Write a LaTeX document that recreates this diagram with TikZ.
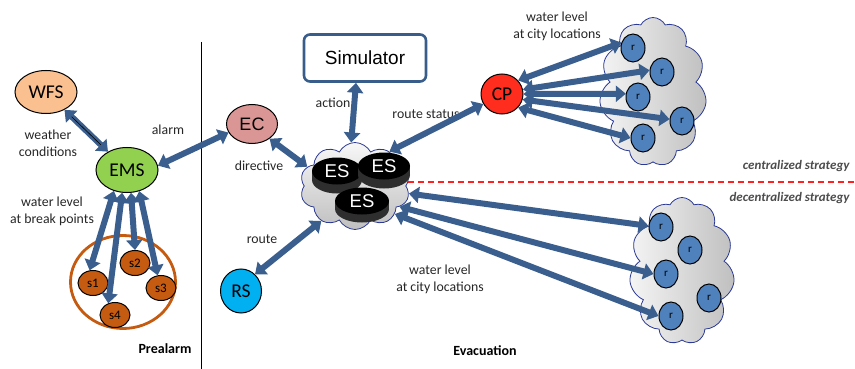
\documentclass[tikz,border=0pt]{standalone}
\usepackage{fontspec}
\setmainfont{Carlito}
\newfontfamily\arialf{Liberation Sans}
\usetikzlibrary{arrows.meta,shapes.geometric,shapes.symbols}
\definecolor{arrowc}{HTML}{3A5F8E}
\definecolor{wfsfill}{HTML}{FAC08F}
\definecolor{emsfill}{HTML}{92D050}
\definecolor{ecfill}{HTML}{DA9694}
\definecolor{cpfill}{HTML}{FF2D1D}
\definecolor{rsfill}{HTML}{00B0F0}
\definecolor{sfill}{HTML}{C55A11}
\definecolor{rfill}{HTML}{4F81BD}
\definecolor{cloudc}{HTML}{2B3A96}
\definecolor{simc}{HTML}{385D8A}
\definecolor{redline}{HTML}{FF2020}
\begin{document}
\begin{tikzpicture}[x=1pt,y=-1pt,
  conn/.style={draw=arrowc, line width=6pt, {Triangle[width=16pt,length=10pt]}-{Triangle[width=16pt,length=10pt]}},
  lab/.style={font=\fontsize{13.8}{17}\selectfont, align=center, text=black!85},
  blab/.style={font=\fontsize{14}{16}\selectfont\bfseries, text=black},
  strat/.style={font=\fontsize{13}{15}\selectfont\bfseries\itshape, text=black!70, anchor=east},
  agent/.style={ellipse, draw=black, line width=1pt, inner sep=0pt, font=\fontsize{19.5}{21}\selectfont},
  snode/.style={ellipse, draw=black, line width=1pt, fill=sfill, inner sep=0pt, minimum width=30, minimum height=25, font=\fontsize{13}{14}\selectfont},
  rnode/.style={ellipse, draw=black, line width=1pt, fill=rfill, inner sep=0pt, minimum width=24, minimum height=28, font=\fontsize{11}{12}\selectfont},
  rcloud/.style={cloud, cloud puffs=11, cloud puff arc=125, cloud ignores aspect, draw=cloudc, line width=0.8pt, left color=gray!8, right color=gray!50, inner sep=0pt},
  esside/.style={fill=black!82},
  esdisk/.style={ellipse, fill=black, inner sep=0pt, text=white, font=\arialf\fontsize{18.5}{20}\selectfont}
]
\useasboundingbox (0,0) rectangle (855,369);

% separators
\coordinate (vtop) at (201,42);
\coordinate (vbot) at (201,369);
\draw[line width=1pt] (vtop) -- (vbot);
\coordinate (dl) at (408,182);
\coordinate (dr) at (855,182);
\draw[redline, line width=1.3pt, dash pattern=on 6pt off 4pt] (dl) -- (dr);

% labels
\node[lab] (lweather) at (48,143) {weather\\conditions};
\node[lab] (lalarm) at (168,130) {alarm};
\node[lab] (lwlb) at (52,211) {water level\\at break points};
\node[lab] (laction) at (333,103) {action};
\node[lab] (lroutes) at (426,114) {route status};
\node[lab] (ldirective) at (259,166) {directive};
\node[lab] (lroute) at (262,239) {route};
\node[lab] (lwlc) at (440,279) {water level\\at city locations};
\node[lab] (lwlu) at (557,26) {water level\\at city locations};
\node[blab] (lpre) at (165,349) {Prealarm};
\node[blab] (levac) at (485,351) {Evacuation};
\node[strat] (lcent) at (853,166) {centralized strategy};
\node[strat] (ldec) at (853,198) {decentralized strategy};

% prealarm part
\node[agent, fill=wfsfill, minimum width=62, minimum height=43] (wfs) at (46,92) {WFS};
\node[agent, fill=emsfill, minimum width=62, minimum height=45] (ems) at (127,170) {EMS};
\node[ellipse, draw=sfill, line width=2.8pt, minimum width=105, minimum height=93, inner sep=0pt] (area) at (123,282) {};
\node[snode] (s1) at (93,283) {s1};
\node[snode] (s2) at (135,263) {s2};
\node[snode] (s3) at (161,288) {s3};
\node[snode] (s4) at (115,315) {s4};

% evacuation part
\node[agent, fill=ecfill, minimum width=51, minimum height=39, font=\arialf\fontsize{18}{19}\selectfont] (ec) at (252,124) {EC};
\node[draw=simc, line width=2.6pt, rounded corners=6pt, minimum width=122, minimum height=47, inner sep=0pt, font=\arialf\fontsize{19}{21}\selectfont] (sim) at (365,58) {Simulator};
\node[agent, fill=cpfill, minimum width=42, minimum height=40] (cp) at (502,94) {CP};
\node[agent, fill=rsfill, minimum width=41, minimum height=44] (rs) at (241,291) {RS};

\node[cloud, cloud puffs=10, cloud puff arc=125, cloud ignores aspect, draw=cloudc, line width=0.8pt, top color=gray!6, bottom color=gray!50, minimum width=110, minimum height=87, inner sep=0pt] (escloud) at (355,186) {};
\fill[esside] (312,171) rectangle (362,180);
\fill[esside] (337,180) ellipse [x radius=25, y radius=13.5];
\node[esdisk, minimum width=50, minimum height=27] (es1) at (337,171) {ES};
\fill[esside] (358,166) rectangle (410,175);
\fill[esside] (384,175) ellipse [x radius=26, y radius=13.5];
\node[esdisk, minimum width=52, minimum height=27] (es2) at (384,166) {ES};
\fill[esside] (335,201) rectangle (389,209);
\fill[esside] (362,209) ellipse [x radius=27, y radius=13.5];
\node[esdisk, minimum width=54, minimum height=27] (es3) at (362,201) {ES};

\node[rcloud, minimum width=107, minimum height=149] (ucloud) at (653,92) {};
\node[rnode] (ur1) at (633,48) {r};
\node[rnode] (ur2) at (662,72) {r};
\node[rnode] (ur3) at (638,97) {r};
\node[rnode] (ur4) at (682,121) {r};
\node[rnode] (ur5) at (643,138) {r};

\node[rcloud, minimum width=105, minimum height=147] (lcloud) at (682,271) {};
\node[rnode] (lr1) at (661,227) {r};
\node[rnode] (lr2) at (690,250) {r};
\node[rnode] (lr3) at (666,274) {r};
\node[rnode] (lr4) at (709,298) {r};
\node[rnode] (lr5) at (671,316) {r};

% connectors
\draw[conn] (wfs) -- (ems);
\draw[black, line width=0.6pt, shorten <=10pt, shorten >=10pt] (wfs) -- (ems);
\draw[conn] (ems.8) -- (ec.200);
\draw[conn] (ems.238) -- (s1.105);
\draw[conn] (ems.258) -- (s4.120);
\draw[conn] (ems.280) -- (s2.90);
\draw[conn] (ems.300) -- (s3.105);

\draw[conn] (sim.250) -- (escloud.95);
\draw[conn] (ec.320) -- (escloud.158);
\draw[conn] (escloud.45) -- (cp.208);
\draw[conn] (escloud.226) -- (rs.50);
\draw[conn] (escloud.-8) -- (lr1.175);
\draw[conn] (escloud.-25) -- (lr3.180);
\draw[conn] (escloud.-35) -- (lr5.180);

\draw[conn] (cp.40) -- (ur1.155);
\draw[conn] (cp.12) -- (ur2.172);
\draw[conn] (cp.0) -- (ur3.165);
\draw[conn] (cp.-15) -- (ur4.172);
\draw[conn] (cp.-40) -- (ur5.180);
\end{tikzpicture}
\end{document}
